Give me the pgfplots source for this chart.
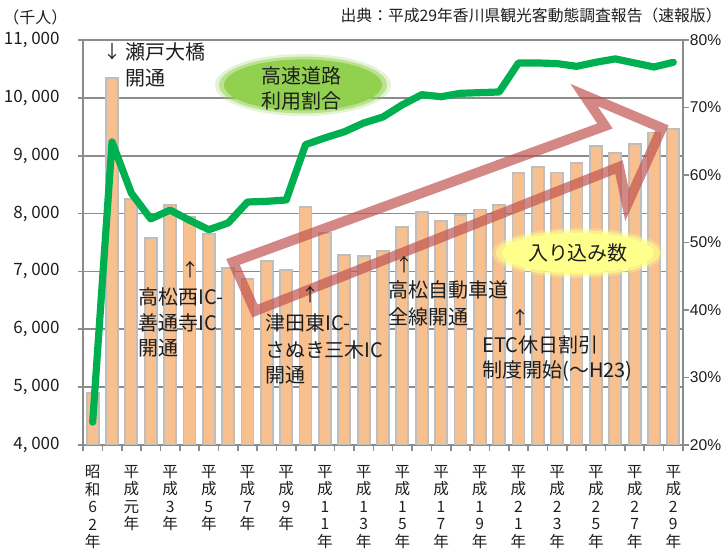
\documentclass[border=0pt]{standalone}
\usepackage{fontspec}
\setmainfont{Noto Sans CJK JP}
\newfontfamily\arial{Liberation Sans}
\usepackage{pgfplots}
\pgfplotsset{compat=1.18}
\usepackage{pgfplotstable}

\definecolor{barfill}{RGB}{249,192,143}
\definecolor{barborder}{RGB}{190,190,190}
\definecolor{gridc}{RGB}{140,140,140}
\definecolor{linegreen}{RGB}{0,176,80}
\definecolor{ellgreen}{RGB}{146,208,80}
\definecolor{ellyellow}{RGB}{255,255,140}
\definecolor{arrowred}{RGB}{192,80,77}
\definecolor{txt}{RGB}{30,30,30}

\pgfplotstableread{
i val pct
0 4900 23.4
1 10350 64.9
2 8250 57.3
3 7580 53.5
4 8150 54.8
5 7940 53.3
6 7650 51.9
7 7060 52.9
8 6870 56.0
9 7180 56.1
10 7020 56.3
11 8110 64.5
12 7660 65.5
13 7280 66.4
14 7270 67.7
15 7350 68.6
16 7770 70.4
17 8030 71.9
18 7870 71.6
19 7970 72.1
20 8070 72.2
21 8150 72.3
22 8700 76.6
23 8800 76.6
24 8710 76.5
25 8870 76.1
26 9170 76.7
27 9050 77.2
28 9200 76.6
29 9400 76.0
30 9460 76.7
}\datatable

\begin{document}
\begin{tikzpicture}
\useasboundingbox (0,0) rectangle (362.5pt,276pt);
\begin{axis}[
  at={(41.5pt,53.5pt)}, anchor=south west, scale only axis,
  width=300pt, height=202.5pt,
  xmin=-0.5, xmax=30.5, ymin=4000, ymax=11000,
  scaled y ticks=false,
  ytick={4000,5000,...,11000},
  yticklabels={{4, 000},{5, 000},{6, 000},{7, 000},{8, 000},{9, 000},{10, 000},{11, 000}},
  ymajorgrids, grid style={gridc, line width=0.8pt},
  axis line style={gridc, line width=0.8pt},
  tick style={gridc, line width=0.8pt},
  tick align=outside, major tick length=2.5pt, minor tick length=3pt,
  xtick pos=lower, ytick pos=left,
  xtick={0,2,...,30},
  xticklabels={{昭\\和\\6\\2\\年},{平\\成\\元\\年},{平\\成\\3\\年},{平\\成\\5\\年},{平\\成\\7\\年},{平\\成\\9\\年},{平\\成\\1\\1\\年},{平\\成\\1\\3\\年},{平\\成\\1\\5\\年},{平\\成\\1\\7\\年},{平\\成\\1\\9\\年},{平\\成\\2\\1\\年},{平\\成\\2\\3\\年},{平\\成\\2\\5\\年},{平\\成\\2\\7\\年},{平\\成\\2\\9\\年}},
  major x tick style={draw=none},
  minor xtick={-0.5,0.5,...,30.5},
  xticklabel style={align=center, anchor=north, inner sep=0pt, text=txt, font=\fontsize{7.8}{8.75}\selectfont, yshift=-7.5pt},
  yticklabel style={anchor=east, inner sep=0pt, text=txt, font=\fontsize{8.5}{10}\selectfont, xshift=-9pt},
]
\addplot[ybar, bar width=6pt, fill=barfill, draw=barborder, line width=0.9pt] table[x=i,y=val]{\datatable};
\end{axis}
\begin{axis}[
  at={(41.5pt,53.5pt)}, anchor=south west, scale only axis,
  width=300pt, height=202.5pt,
  xmin=-0.5, xmax=30.5, ymin=20, ymax=80,
  axis x line=none, axis y line*=right,
  ytick={20,30,...,80},
  yticklabels={20\%,30\%,40\%,50\%,60\%,70\%,80\%},
  axis line style={gridc, line width=0.8pt},
  tick style={gridc, line width=0.8pt},
  tick align=outside, major tick length=3pt,
  yticklabel style={anchor=west, inner sep=0pt, text=txt, font=\arial\fontsize{7.8}{10}\selectfont, xshift=0.3pt},
]
\addplot[linegreen, line width=3.6pt, line join=round, line cap=round, mark=none] table[x=i,y=pct]{\datatable};
\end{axis}
\begin{scope}[x=0.5pt,y=-0.5pt,yshift=276pt,
  lab/.style={anchor=west, inner sep=0pt, text height=0.8em, text depth=0.05em, text=txt, font=\fontsize{10}{12}\selectfont},
  labc/.style={lab, anchor=center},
  arr/.style={anchor=center, inner sep=0pt, text=txt, font=\fontsize{9}{10}\selectfont}]
% red outline arrow
\draw[arrowred, opacity=0.68, line width=5pt, line join=miter] (233,262) -- (605,126) -- (584,95) -- (662,128) -- (627,205) -- (619,167) -- (255,311) -- cycle;
% green ellipse
\fill[ellgreen, opacity=0.25] (303,85) ellipse (44pt and 15.5pt);
\fill[ellgreen, opacity=0.5] (303,85) ellipse (42pt and 14.2pt);
\fill[ellgreen] (303,85) ellipse (39.5pt and 12.8pt);
\node[labc] at (302,76) {高速道路};
\node[labc] at (302,101) {利用割合};
% yellow ellipse
\fill[ellyellow, opacity=0.3] (578,253) ellipse (43pt and 12.5pt);
\fill[ellyellow, opacity=0.6] (578,253) ellipse (41pt and 11.3pt);
\fill[ellyellow] (578,253) ellipse (38pt and 10pt);
\node[labc] at (578,253) {入り込み数};
% annotations
\node[arr] at (113,52) {↓};
\node[lab] at (125,52) {瀬戸大橋};
\node[lab] at (125,78) {開通};
\node[arr] at (191,270) {↑};
\node[lab] at (138,297) {高松西IC-};
\node[lab] at (138,323) {善通寺IC};
\node[lab] at (138,348) {開通};
\node[arr] at (310,295) {↑};
\node[lab] at (265,323) {津田東IC-};
\node[lab] at (265,350) {さぬき三木IC};
\node[lab] at (265,375) {開通};
\node[arr] at (404,265) {↑};
\node[lab] at (388,290) {高松自動車道};
\node[lab] at (388,317) {全線開通};
\node[arr] at (520,318) {↑};
\node[lab] at (482,345) {ETC休日割引};
\node[lab] at (482,370) {制度開始(～H23)};
% titles
\node[anchor=east, inner sep=0pt, text=txt, font=\fontsize{7.9}{9}\selectfont] at (722,15) {出典：平成29年香川県観光客動態調査報告（速報版）};
\node[anchor=west, inner sep=0pt, text=txt, font=\fontsize{8}{9}\selectfont] at (3,17) {（千人）};
\end{scope}
\end{tikzpicture}
\end{document}
